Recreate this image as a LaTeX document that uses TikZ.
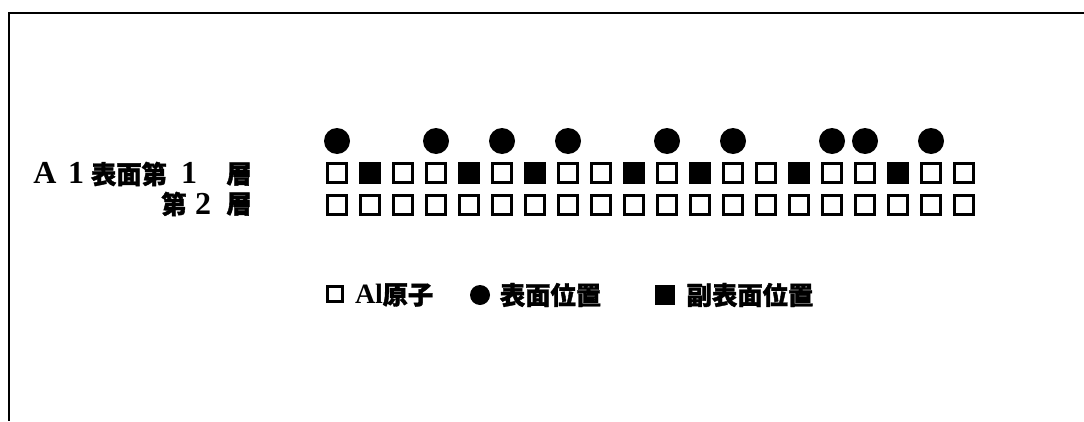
\documentclass[tikz,border=0pt]{standalone}
\usepackage{fontspec}
\newfontfamily\cjk{Noto Sans CJK JP}[FakeBold=1.5]
\newfontfamily\lat{Liberation Serif}
\tikzset{
  sq/.style={draw, line width=2.5pt, minimum size=14.7pt, inner sep=0pt, fill=white},
  fsq/.style={sq, fill=black},
  dot/.style={circle, fill=black, minimum size=19.5pt, inner sep=0pt},
  jp/.style={font=\cjk\bfseries\fontsize{19}{21}\selectfont, inner sep=0pt},
  la/.style={font=\lat\bfseries\fontsize{24}{26}\selectfont, inner sep=0pt},
  lla/.style={font=\lat\bfseries\fontsize{21}{23}\selectfont, inner sep=0pt},
  lsq/.style={draw, line width=1.9pt, minimum size=10.9pt, inner sep=0pt},
  ldot/.style={circle, fill=black, minimum size=15pt, inner sep=0pt},
  lfsq/.style={fill=black, minimum size=15pt, inner sep=0pt},
  frame/.style={line width=2.2pt}
}
\begin{document}
\begin{tikzpicture}[x=0.75pt,y=-0.75pt]
\useasboundingbox (0,0) rectangle (1084,421);
% frame (open at right and bottom)
\coordinate (fr) at (1084,13);
\coordinate (ftl) at (9,13);
\coordinate (fb) at (9,421);
\draw[frame] (fr) -- (ftl) -- (fb);
% layer 1 (pattern) and layer 2
\foreach \k/\f in {0/0,1/1,2/0,3/0,4/1,5/0,6/1,7/0,8/0,9/1,10/0,11/1,12/0,13/0,14/1,15/0,16/0,17/1,18/0,19/0}{
  \ifnum\f=1
    \node[fsq] (a\k) at ({337+33*\k},173) {};
  \else
    \node[sq] (a\k) at ({337+33*\k},173) {};
  \fi
  \node[sq] (b\k) at ({337+33*\k},205) {};
}
% surface sites
\foreach \k in {0,3,5,7,10,12,15,16,18}{
  \node[dot] (c\k) at ({337+33*\k},141) {};
}
% row labels
\node[la] (tA) at (45,173) {A};
\node[la] (t1) at (76,173) {1};
\node[jp] (tS) at (129,174) {表面第};
\node[la] (t1b) at (189,173) {1};
\node[jp] (tL1) at (239,174) {層};
\node[jp] (tD2) at (174,204) {第};
\node[la] (t2) at (203,204) {2};
\node[jp] (tL2) at (239,204) {層};
% legend
\node[lsq] (k1) at (335,294) {};
\node[lla] (k1a) at (369,294) {Al};
\node[jp] (k1b) at (408,295) {原子};
\node[ldot] (k2) at (480,295) {};
\node[jp] (k2a) at (550.5,295) {表面位置};
\node[lfsq] (k3) at (665,295) {};
\node[jp] (k3a) at (750,295) {副表面位置};
\end{tikzpicture}
\end{document}
